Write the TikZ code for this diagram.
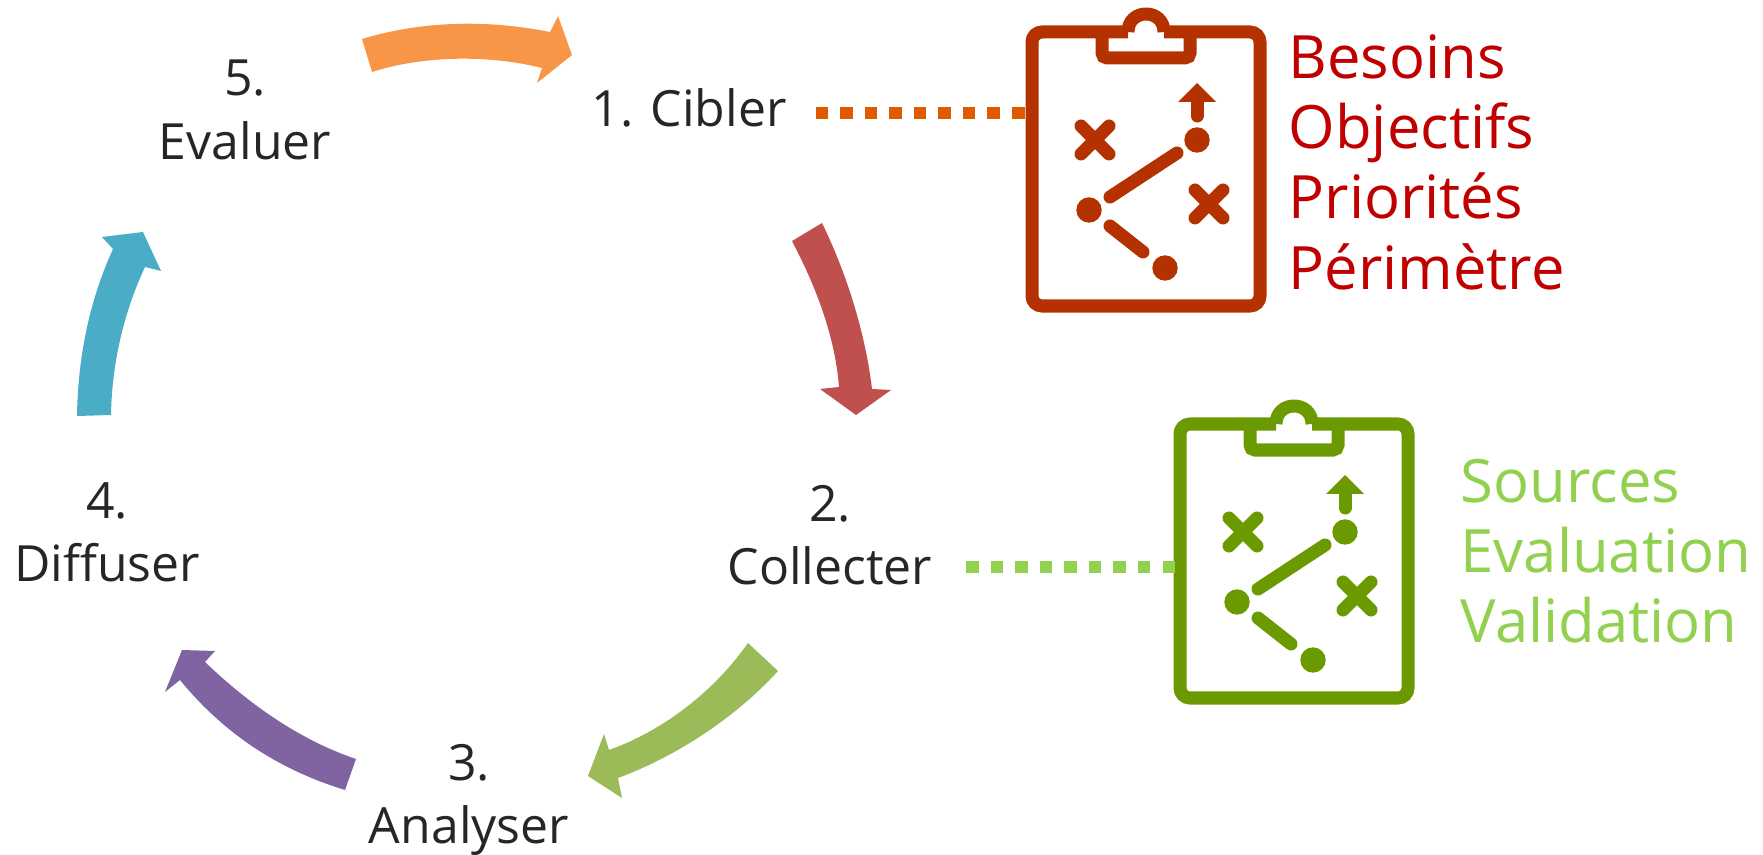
\documentclass[tikz,border=0pt]{standalone}
\usepackage{fontspec}
\setmainfont{Open Sans}
\definecolor{arrowOrange}{HTML}{F79646}
\definecolor{arrowRed}{HTML}{C0504D}
\definecolor{arrowGreen}{HTML}{9BBB59}
\definecolor{arrowViolet}{HTML}{8064A2}
\definecolor{arrowBlue}{HTML}{4BACC6}
\definecolor{iconRed}{HTML}{B43200}
\definecolor{iconGreen}{HTML}{6B9A00}
\definecolor{linkRed}{HTML}{E05A00}
\definecolor{linkGreen}{HTML}{92D050}
\definecolor{textRed}{HTML}{C00000}
\tikzset{
  stage/.style={align=center,text=black!85,font=\fontsize{14.2pt}{18pt}\selectfont,inner sep=0pt},
  notes/.style={align=left,anchor=west,inner sep=0pt,font=\fontsize{17pt}{20pt}\selectfont},
  dotlink/.style={line width=0.125cm,dash pattern=on 0.125cm off 0.12cm},
  pics/clipboard/.style={code={
    \draw[#1,line width=0.13cm,rounded corners=0.1cm] (102,6) -- (6,6) -- (6,280) -- (234,280) -- (234,6) -- (138,6);
    \draw[#1,line width=0.13cm,line join=round] (102,6) .. controls (102,-18) and (138,-18) .. (138,6);
    \draw[#1,line width=0.13cm,rounded corners=0.05cm] (76,6) -- (76,32) -- (164,32) -- (164,6);
    \draw[#1,line width=0.13cm,line cap=round] (84,171) -- (151,127);
    \draw[#1,line width=0.13cm,line cap=round] (84,200) -- (117,226);
    \draw[#1,line width=0.13cm,line cap=round] (171,76) -- (171,90);
    \fill[#1] (171,57) -- (190,76) -- (152,76) -- cycle;
    \foreach \px/\py in {171/114,63/184,139/242}  {
      \fill[#1] (\px,\py) circle [radius=12.7];
    }
    \foreach \px/\py in {69/114,183/178}  {
      \draw[#1,line width=0.13cm,line cap=round] (\px-14,\py-14) -- (\px+14,\py+14);
      \draw[#1,line width=0.13cm,line cap=round] (\px-14,\py+14) -- (\px+14,\py-14);
    }
  }}
}
\begin{document}
\begin{tikzpicture}[x=0.01cm,y=-0.01cm]
      \useasboundingbox (0,0) rectangle (1763,855);

      %etapes
      \node (cibler) at (689,108) [stage]{1. Cibler};
      \node (collecter) at (830,535) [stage]{2.\\Collecter};
      \node (analyser) at (469,800) [stage]{3.\\Analyser};
      \node (diffuser) at (107,532) [stage]{4.\\Diffuser};
      \node (evaluer) at (245,110) [stage]{5.\\Evaluer};

      %fleches
      \fill[arrowOrange] (362,39) .. controls (425,20) and (490,20) .. (550,32) -- (558,16) -- (572,55)
      -- (537,83) -- (542,68) .. controls (490,55) and (425,55) .. (372,72) -- cycle;
      \fill[arrowRed] (792,241) .. controls (815,285) and (835,335) .. (839,387) -- (820,389) -- (856,415)
      -- (891,390) -- (872,389) .. controls (865,330) and (845,270) .. (822,223) -- cycle;
      \fill[arrowGreen] (748,643) .. controls (715,690) and (665,730) .. (609,750) -- (604,734) -- (588,776)
      -- (622,798) -- (618,778) .. controls (680,755) and (738,715) .. (778,671) -- cycle;
      \fill[arrowViolet] (356,759) .. controls (300,740) and (250,705) .. (205,662) -- (215,651) -- (182,650)
      -- (165,692) -- (180,680) .. controls (225,735) and (280,770) .. (345,790) -- cycle;
      \fill[arrowBlue] (77,416) .. controls (78,350) and (92,295) .. (113,249) -- (102,237) -- (143,232)
      -- (161,271) -- (145,267) .. controls (125,310) and (112,360) .. (111,415) -- cycle;

      %tableaux
      \pic at (1026,26) {clipboard=iconRed};
      \pic at (1174,418) {clipboard=iconGreen};
      \coordinate (boardRed) at (1024.5,113);
      \coordinate (boardGreen) at (1175,567);

      %liens
      \draw[dotlink,linkRed,shorten >=0.18cm] (boardRed) -- (cibler.east |- boardRed);
      \draw[dotlink,linkGreen,shorten >=0.24cm] (boardGreen) -- (collecter.east |- boardGreen);

      \node (notesRed) at (1288,162) [notes,text=textRed]{Besoins\\Objectifs\\Priorités\\Périmètre};
      \node (notesGreen) at (1460,551) [notes,text=linkGreen]{Sources\\Evaluation\\Validation};
\end{tikzpicture}
\end{document}
